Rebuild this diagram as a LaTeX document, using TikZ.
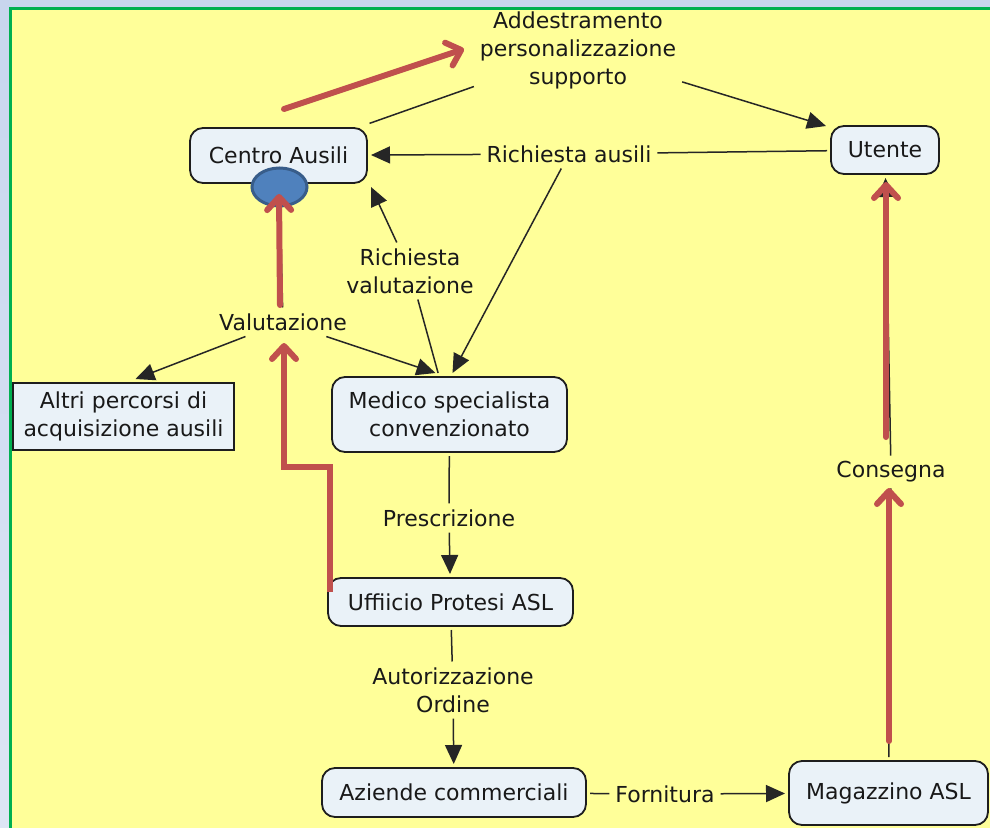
\documentclass[tikz,border=0pt]{standalone}
\usepackage{fontspec}
\setmainfont{DejaVu Sans}
\usetikzlibrary{arrows.meta,shapes.geometric,calc}
\definecolor{bgtop}{RGB}{200,214,238}
\definecolor{bgbot}{RGB}{221,229,245}
\definecolor{frameg}{RGB}{0,176,80}
\definecolor{paper}{RGB}{255,255,153}
\definecolor{boxfill}{RGB}{234,242,248}
\definecolor{boxline}{RGB}{30,30,30}
\definecolor{redarr}{RGB}{192,80,77}
\definecolor{ellfill}{RGB}{79,129,189}
\definecolor{elldraw}{RGB}{56,93,138}
\definecolor{txt}{RGB}{25,25,25}
\begin{document}
\begin{tikzpicture}[x=1pt,y=-1pt,
  every node/.style={font=\fontsize{22}{28}\selectfont, text=txt, align=center},
  cbox/.style={draw=boxline, line width=1.8pt, fill=boxfill, rounded corners=13pt, inner sep=0pt, outer sep=4pt},
  sqbox/.style={draw=boxline, line width=1.8pt, fill=boxfill, inner sep=0pt, outer sep=4pt},
  lbl/.style={inner sep=3pt, outer sep=3pt},
  link/.style={draw=black!85, line width=1.5pt},
  arr/.style={link, -{Triangle[length=19pt,width=17pt]}},
  redline/.style={draw=redarr, line width=6pt, line cap=round, line join=miter, -{Straight Barb[length=13pt,width=24pt,round]}}
]
\useasboundingbox (0,0) rectangle (990,827);
\clip (0,0) rectangle (990,827);
\shade[top color=bgtop, bottom color=bgbot] (0,0) rectangle (990,827);
\draw[frameg, line width=3.5pt, fill=paper] (10.3,8.7) rectangle (1010,850);

% concepts
\node[cbox, minimum width=177pt, minimum height=55pt] (ca) at (278.5,155.5) {Centro Ausili};
\node[cbox, minimum width=108pt, minimum height=48pt] (ut) at (885,150) {Utente};
\node[sqbox, minimum width=221pt, minimum height=67pt] (alt) at (123.5,416.5) {Altri percorsi di\\acquisizione ausili};
\node[cbox, minimum width=235pt, minimum height=75pt] (med) at (449.5,414.5) {Medico specialista\\convenzionato};
\node[cbox, minimum width=245pt, minimum height=48pt] (uff) at (450.5,602) {Uffiicio Protesi ASL};
\node[cbox, minimum width=264pt, minimum height=49pt] (az) at (454,792.5) {Aziende commerciali};
\node[cbox, minimum width=199pt, minimum height=64pt] (mag) at (888.5,793) {Magazzino ASL};

% linking phrases
\node[lbl] (add) at (578,50) {Addestramento\\personalizzazione\\supporto};
\node[lbl] (ra) at (569,154) {Richiesta ausili};
\node[lbl] (rv) at (410,271) {Richiesta\\valutazione};
\node[lbl] (val) at (283,322) {Valutazione};
\node[lbl] (pre) at (449,518) {Prescrizione};
\node[lbl] (aut) at (453,690) {Autorizzazione\\Ordine};
\node[lbl] (con) at (891,472) {Consegna};
\node[lbl] (forn) at (665,794) {Fornitura};

% blue marker on Centro Ausili
\node[ellipse, draw=elldraw, line width=3pt, fill=ellfill, minimum width=55pt, minimum height=38pt, inner sep=0pt] (ell) at (279.5,187) {};

% connectors
\draw[link, shorten <=2pt] (ca) -- (add);
\draw[arr] (add) -- ($(ut.north west)+(-1,4)$);
\draw[link] (ut) -- (ra);
\draw[arr] (ra) -- (ca);
\draw[arr] (ra) -- ($(med.north)+(3,0)$);
\draw[arr] (rv) -- (ca.south east);
\draw[link] (med) -- (rv);
\draw[arr] (val) -- ($(med.north)+(-14,0)$);
\draw[arr] (val) -- ($(alt.north)+(12,0)$);
\draw[link] (val) -- (ell);
\draw[link] (med) -- (pre);
\draw[arr] (pre) -- (uff);
\draw[link] (uff) -- (aut);
\draw[arr] (aut) -- (az);
\draw[link] (az) -- (forn);
\draw[arr] (forn) -- (mag);
\draw[link] (mag) -- (con);
\draw[arr] (con) -- (ut);

% red annotation arrows
\coordinate (r1s) at (284,109);
\coordinate (r1e) at (464,49);
\coordinate (r2s) at (280,305);
\coordinate (r2e) at (279,194);
\coordinate (r3s) at (330,592);
\coordinate (r3a) at (330,467);
\coordinate (r3b) at (284,467);
\coordinate (r3e) at (284,343);
\coordinate (r4s) at (886,437);
\coordinate (r4e) at (886,182);
\coordinate (r5s) at (889,741);
\coordinate (r5e) at (889,488);
\draw[redline] (r1s) -- (r1e);
\draw[redline] (r2s) -- (r2e);
\draw[redline, line cap=butt] (r3s) -- (r3a) -- (r3b) -- (r3e);
\draw[redline] (r4s) -- (r4e);
\draw[redline] (r5s) -- (r5e);
\end{tikzpicture}
\end{document}
